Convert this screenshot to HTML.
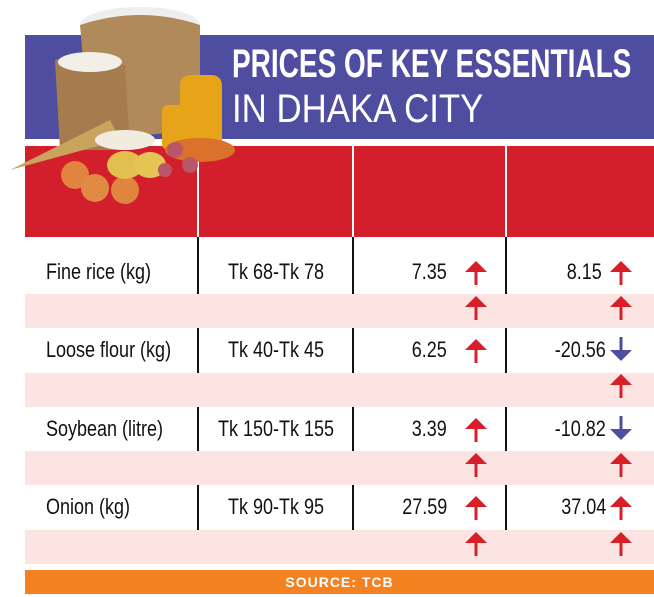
<!DOCTYPE html>
<html><head><style>
body{margin:0;width:654px;height:597px;background:#fff;position:relative;overflow:hidden;font-family:"Liberation Sans",sans-serif}
.a{position:absolute}
.t{position:absolute;font-size:22.5px;color:#111;transform:scaleX(0.8);white-space:nowrap;line-height:1}
</style></head><body>
<div class="a" style="left:25px;top:35px;width:629px;height:104px;background:#4f4d9f"></div>
<div class="a" style="left:25px;top:146px;width:629px;height:91px;background:#d21f2b"></div>
<div class="a" style="left:197px;top:146px;width:2px;height:91px;background:#fff"></div>
<div class="a" style="left:352px;top:146px;width:2px;height:91px;background:#fff"></div>
<div class="a" style="left:505px;top:146px;width:2px;height:91px;background:#fff"></div>
<div class="a" style="left:232px;top:44px;font-size:40px;line-height:1;font-weight:bold;color:#fff;transform:scaleX(0.70);transform-origin:left;white-space:nowrap">PRICES OF KEY ESSENTIALS</div>
<div class="a" style="left:232px;top:89px;font-size:40px;line-height:1;color:#fff;transform:scaleX(0.87);transform-origin:left;white-space:nowrap;font-weight:300">IN DHAKA CITY</div>
<!-- food illustration approximation -->
<svg class="a" style="left:0;top:0" width="240" height="215">
<ellipse cx="140" cy="25" rx="60" ry="18" fill="#eee"/>
<path d="M80 25 Q140 5 200 25 L200 130 L90 140 Z" fill="#b08a5a"/>
<path d="M55 60 Q90 50 125 65 L130 150 L60 150 Z" fill="#a47c4e"/>
<ellipse cx="90" cy="62" rx="32" ry="10" fill="#f2efe8"/>
<rect x="180" y="75" width="42" height="75" rx="10" fill="#e8a418"/>
<rect x="162" y="105" width="22" height="45" rx="6" fill="#e6a31c"/>
<path d="M10 170 L110 120 L120 140 Z" fill="#c9a45c"/>
<ellipse cx="200" cy="150" rx="35" ry="12" fill="#d9722a"/>
<circle cx="75" cy="175" r="14" fill="#e0843f"/><circle cx="95" cy="188" r="14" fill="#e08a43"/><circle cx="125" cy="190" r="14" fill="#df8540"/>
<ellipse cx="125" cy="165" rx="18" ry="14" fill="#e2c050"/><ellipse cx="150" cy="165" rx="16" ry="13" fill="#e4c455"/>
<circle cx="175" cy="150" r="8" fill="#b9566a"/><circle cx="190" cy="165" r="8" fill="#b9566a"/><circle cx="165" cy="170" r="7" fill="#b9566a"/>
<ellipse cx="125" cy="140" rx="30" ry="10" fill="#f2ece0"/>
</svg>
<!-- pink rows -->
<div class="a" style="left:25px;top:294px;width:629px;height:34px;background:#fce4e3"></div>
<div class="a" style="left:25px;top:373px;width:629px;height:34px;background:#fce4e3"></div>
<div class="a" style="left:25px;top:451px;width:629px;height:34px;background:#fce4e3"></div>
<div class="a" style="left:25px;top:530px;width:629px;height:34px;background:#fce4e3"></div>
<div class="a" style="left:25px;top:570px;width:629px;height:24px;background:#f58220"></div>
<div class="a" style="left:25px;top:574px;width:629px;text-align:center;font-size:14px;font-weight:bold;color:#fff;letter-spacing:1px">SOURCE: TCB</div>
<!-- black dividers -->
<svg class="a" style="left:0;top:0" width="654" height="597">
<g stroke="#111" stroke-width="2">
<line x1="198" y1="237" x2="198" y2="294"/><line x1="353" y1="237" x2="353" y2="294"/><line x1="506" y1="237" x2="506" y2="294"/>
<line x1="198" y1="328" x2="198" y2="373"/><line x1="353" y1="328" x2="353" y2="373"/><line x1="506" y1="328" x2="506" y2="373"/>
<line x1="198" y1="407" x2="198" y2="451"/><line x1="353" y1="407" x2="353" y2="451"/><line x1="506" y1="407" x2="506" y2="451"/>
<line x1="198" y1="485" x2="198" y2="530"/><line x1="353" y1="485" x2="353" y2="530"/><line x1="506" y1="485" x2="506" y2="530"/>
</g>
<defs>
<g id="u"><polygon points="-11,0 0,-11 11,0" fill="#d71f2a"/><rect x="-1.5" y="-1" width="3" height="14" fill="#d71f2a"/></g>
<g id="d"><polygon points="-11,0 0,11 11,0" fill="#4f4d9f"/><rect x="-1.5" y="-13" width="3" height="14" fill="#4f4d9f"/></g>
</defs>
<use href="#u" x="476" y="272"/><use href="#u" x="621" y="272"/>
<use href="#u" x="476" y="307"/><use href="#u" x="621" y="307"/>
<use href="#u" x="476" y="350"/><use href="#d" x="621" y="350"/>
<use href="#u" x="621" y="385"/>
<use href="#u" x="476" y="429"/><use href="#d" x="621" y="429"/>
<use href="#u" x="476" y="464"/><use href="#u" x="621" y="464"/>
<use href="#u" x="476" y="507"/><use href="#u" x="621" y="507"/>
<use href="#u" x="476" y="543"/><use href="#u" x="621" y="543"/>
</svg>
<div class="t" style="left:46px;top:261px;transform-origin:left">Fine rice (kg)</div>
<div class="t" style="left:46px;top:339px;transform-origin:left">Loose flour (kg)</div>
<div class="t" style="left:46px;top:418px;transform-origin:left">Soybean (litre)</div>
<div class="t" style="left:46px;top:496px;transform-origin:left">Onion (kg)</div>
<div class="t" style="left:276px;top:261px;transform:translateX(-50%) scaleX(0.8)">Tk 68-Tk 78</div>
<div class="t" style="left:276px;top:339px;transform:translateX(-50%) scaleX(0.8)">Tk 40-Tk 45</div>
<div class="t" style="left:276px;top:418px;transform:translateX(-50%) scaleX(0.8)">Tk 150-Tk 155</div>
<div class="t" style="left:276px;top:496px;transform:translateX(-50%) scaleX(0.8)">Tk 90-Tk 95</div>
<div class="t" style="right:207px;top:261px;transform-origin:right">7.35</div>
<div class="t" style="right:207px;top:339px;transform-origin:right">6.25</div>
<div class="t" style="right:207px;top:418px;transform-origin:right">3.39</div>
<div class="t" style="right:207px;top:496px;transform-origin:right">27.59</div>
<div class="t" style="right:52px;top:261px;transform-origin:right">8.15</div>
<div class="t" style="right:48px;top:339px;transform-origin:right">-20.56</div>
<div class="t" style="right:48px;top:418px;transform-origin:right">-10.82</div>
<div class="t" style="right:48px;top:496px;transform-origin:right">37.04</div>
</body></html>
